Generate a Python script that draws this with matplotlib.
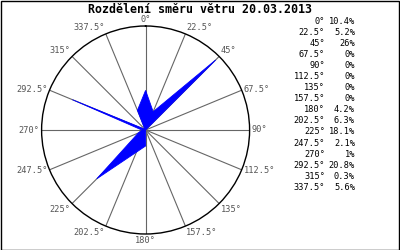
import matplotlib
matplotlib.use("Agg")
import matplotlib.pyplot as plt
from matplotlib.patches import Rectangle
import numpy as np

TITLE = "Rozdělení směru větru 20.03.2013"
DIRECTIONS = [0, 22.5, 45, 67.5, 90, 112.5, 135, 157.5,
              180, 202.5, 225, 247.5, 270, 292.5, 315, 337.5]
PERCENT = [10.4, 5.2, 26, 0, 0, 0, 0, 0, 4.2, 6.3, 18.1, 2.1, 1, 20.8, 0.3, 5.6]
PERCENT_TEXT = ["10.4%", "5.2%", "26%", "0%", "0%", "0%", "0%", "0%",
                "4.2%", "6.3%", "18.1%", "2.1%", "1%", "20.8%", "0.3%", "5.6%"]

MONO = "DejaVu Sans Mono"
GRID = "#666666"
FILL = "#0000ff"


def fmt_dir(d):
    return f"{d:g}\u00b0"


fig = plt.figure(figsize=(4.0, 2.5), dpi=100)
fig.patch.set_facecolor("white")

ax = fig.add_axes([0.104, 0.064, 0.52, 0.832], projection="polar")
ax.set_theta_zero_location("N")
ax.set_theta_direction(-1)
rmax = max(PERCENT) * 1.05
ax.set_ylim(0, rmax)
ax.grid(False)
ax.set_xticks([])
ax.set_yticks([])
ax.spines["polar"].set_color("black")
ax.spines["polar"].set_linewidth(1.0)

theta = np.deg2rad(DIRECTIONS)
for t in theta:
    ax.plot([t, t], [0, rmax], color=GRID, linewidth=0.8, zorder=1)

tc = np.append(theta, theta[0])
rc = np.append(PERCENT, PERCENT[0])
ax.fill(tc, rc, facecolor=FILL, edgecolor=FILL, linewidth=0.6, zorder=3)

for d, t in zip(DIRECTIONS, theta):
    s, c = np.sin(t), np.cos(t)
    ha = "left" if s > 0.01 else ("right" if s < -0.01 else "center")
    va = "bottom" if c > 0.7 else ("top" if c < -0.7 else "center")
    ax.text(t, rmax * 1.02, fmt_dir(d), ha=ha, va=va, fontsize=6.2,
            family=MONO, color="#555555", clip_on=False)

fig.text(0.5, 0.963, TITLE, ha="center", va="center", fontsize=8.4,
         family=MONO, fontweight="bold", color="black")

y0 = 1 - 21 / 250
dy = 11.1 / 250
for i, (d, p) in enumerate(zip(DIRECTIONS, PERCENT_TEXT)):
    y = y0 - i * dy
    fig.text(325 / 400, y, fmt_dir(d), ha="right", va="center", fontsize=6.2,
             family=MONO, color="black")
    fig.text(355 / 400, y, p, ha="right", va="center", fontsize=6.2,
             family=MONO, color="black")

fig.patches.append(Rectangle((0.0015, 0.002), 0.997, 0.996, transform=fig.transFigure,
                             fill=False, edgecolor="black", linewidth=1.0))

fig.savefig("out.png", dpi=100)
